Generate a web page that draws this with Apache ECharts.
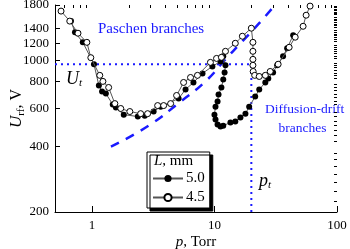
<!DOCTYPE html>
<html><head><meta charset="utf-8">
<script src="https://cdn.jsdelivr.net/npm/echarts@6/dist/echarts.min.js"></script>
<style>html,body{margin:0;padding:0;background:#fff}#c{width:350px;height:249px}</style>
</head><body><div id="c"></div>
<script>
// L = 5.0 mm (filled)
const pFilled = [0.675,0.728,0.843,1.04,1.14,1.21,1.30,1.48,1.57,1.82,2.37,2.70,3.19,3.64,5.10,5.81,6.74,7.99,9.62,11.2,11.8,12.3,12.1,11.8,11.4,10.8,10.6,10.2,10.0,10.2,10.6,11.2,11.8,13.5,14.8,16.3,17.9,19.2,21.5,23.2,26.0,27.5,30.1,32.5,36.3,39.2,43.9];
const uFilled = [1517,1348,1211,960,766,719,703,626,606,562,551,556,581,612,667,734,791,871,938,989,1045,949,880,817,750,696,646,612,562,534,506,495,500,517,523,545,568,612,681,734,791,826,880,949,1045,1137,1306];
// L = 4.5 mm (open)
const pOpen = [0.56,0.66,0.77,0.91,0.98,1.16,1.23,1.37,1.54,1.72,2.04,2.50,2.85,3.44,3.85,4.39,4.91,5.60,6.38,7.27,9.27,10.4,11.4,12.3,14.8,16.9,20.0,20.6,20.6,20.6,20.6,20.7,21.3,23.2,26.0,28.5,33.1,40.7,45.6,52.9,56.0,60.3];
const uOpen = [1687,1517,1334,1211,1029,853,800,750,632,600,581,568,568,619,619,632,689,791,834,853,979,1021,1033,1101,1199,1292,1407,1211,1101,1011,949,889,853,843,853,889,960,1149,1279,1436,1615,1779];
// Paschen branch (dashed)
const pPaschen = [1.43,2.9,5.3,8.45,12.3,16.3,22.8,30.2];
const uPaschen = [400,500,646,800,1011,1199,1468,1760];
// threshold lines
const pThreshold = [0.5,20,20];
const uThreshold = [960,960,200];
// ticks
const xMajor = [1,10,100];
const xMinor = [0.6,0.7,0.8,0.9,2,3,4,5,6,7,8,9,20,30,40,50,60,70,80,90];
const yMajor = [200,400,600,800,1000,1200,1400,1600,1800];
const yMinor = [];
for (let v = 225; v < 1800; v += 25) if (v % 200 !== 0) yMinor.push(v);
const legendNames = ['5.0','4.5'];

const zip = (a,b) => a.map((v,i) => [v,b[i]]);
const F = "'Liberation Serif', 'Times New Roman', serif";
const BLUE = '#1a1aff';
const chart = echarts.init(document.getElementById('c'));
const baseX = {type:'log', min:0.5, max:100, splitLine:{show:false}, minorTick:{show:false}};
const baseY = {type:'log', min:200, max:1800, splitLine:{show:false}, minorTick:{show:false}};
chart.setOption({
  animation:false,
  textStyle:{fontFamily:F},
  grid:{left:55, right:13, top:5, bottom:37, containLabel:false, outerBoundsMode:'none'},
  xAxis:[
    Object.assign({}, baseX, {
      axisLine:{lineStyle:{color:'#000', width:1}},
      axisTick:{inside:true, length:6, customValues:xMajor, lineStyle:{color:'#000'}},
      axisLabel:{customValues:xMajor, color:'#000', fontFamily:F, fontSize:13, margin:7, showMaxLabel:true, showMinLabel:true, hideOverlap:false, formatter:v=>String(v)},
      name:'{i|p}, Torr', nameLocation:'middle', nameGap:23, nameMoveOverlap:false,
      nameTextStyle:{color:'#000', fontFamily:F, fontSize:15, rich:{i:{fontStyle:'italic', fontFamily:F, fontSize:15}}}
    }),
    Object.assign({}, baseX, {
      axisLine:{show:false},
      axisTick:{inside:true, length:3, customValues:xMinor, lineStyle:{color:'#000'}},
      axisLabel:{show:false}
    })
  ],
  yAxis:[
    Object.assign({}, baseY, {
      axisLine:{show:true, lineStyle:{color:'#000', width:1}},
      axisTick:{show:true, inside:true, length:5, customValues:yMajor, lineStyle:{color:'#000'}},
      axisLabel:{customValues:yMajor, color:'#000', fontFamily:F, fontSize:13, margin:6, showMaxLabel:true, showMinLabel:true, hideOverlap:false, formatter:v=>String(v)},
      name:'{i|U}{s|rf}, V', nameLocation:'middle', nameGap:28, nameRotate:90, nameMoveOverlap:false,
      nameTextStyle:{color:'#000', fontFamily:F, fontSize:16, rich:{i:{fontStyle:'italic', fontFamily:F, fontSize:17}, s:{fontFamily:F, fontSize:11, padding:[9,0,0,0]}}}
    }),
    Object.assign({}, baseY, {
      axisLine:{show:false},
      axisTick:{show:true, inside:true, length:3, customValues:yMinor, lineStyle:{color:'#000'}},
      axisLabel:{show:false}
    })
  ],
  legend:{
    data:legendNames, orient:'vertical', left:147, top:152,
    padding:[19,5,3,5], itemGap:4, itemWidth:30, itemHeight:9,
    backgroundColor:'#fff', borderColor:'#000', borderWidth:1,
    shadowColor:'#000', shadowBlur:0, shadowOffsetX:3, shadowOffsetY:3,
    textStyle:{fontFamily:F, fontSize:15, color:'#000', padding:[0,0,0,-2]}
  },
  graphic:[
    {type:'text', left:154, top:154, style:{text:'{i|L}, mm', fontFamily:F, fontSize:15, fill:'#000', rich:{i:{fontStyle:'italic', fontFamily:F, fontSize:15}}}, z:100},
    {type:'text', left:98, top:22, style:{text:'Paschen branches', fontFamily:F, fontSize:15, fill:BLUE}},
    {type:'text', left:265, top:100, style:{text:'Diffusion-drift\n    branches', fontFamily:F, fontSize:13.5, fill:BLUE, lineHeight:19}},
    {type:'text', left:66, top:70, style:{text:'{i|U}{s|t}', fontFamily:F, rich:{i:{fontStyle:'italic', fontFamily:F, fontSize:18}, s:{fontStyle:'italic', fontFamily:F, fontSize:11, padding:[9,0,0,0]}}}},
    {type:'text', left:259, top:172, style:{text:'{i|p}{s|t}', fontFamily:F, rich:{i:{fontStyle:'italic', fontFamily:F, fontSize:18}, s:{fontStyle:'italic', fontFamily:F, fontSize:11, padding:[9,0,0,0]}}}}
  ],
  series:[
    {name:'threshold', type:'line', data:zip(pThreshold,uThreshold), symbol:'none', silent:true,
     lineStyle:{color:BLUE, width:2, type:[2,4]}, z:1},
    {name:'Paschen', type:'line', data:zip(pPaschen,uPaschen), symbol:'none', smooth:true, silent:true,
     lineStyle:{color:BLUE, width:2.5, type:[9,8]}, z:1},
    {name:'5.0', type:'line', data:zip(pFilled,uFilled), symbol:'circle', symbolSize:6,
     itemStyle:{color:'#000'}, lineStyle:{color:'#555', width:1}, z:3},
    {name:'4.5', type:'line', data:zip(pOpen,uOpen), symbol:'circle', symbolSize:6,
     itemStyle:{color:'#fff', borderColor:'#000', borderWidth:1}, lineStyle:{color:'#555', width:1}, z:4}
  ]
});
</script></body></html>
